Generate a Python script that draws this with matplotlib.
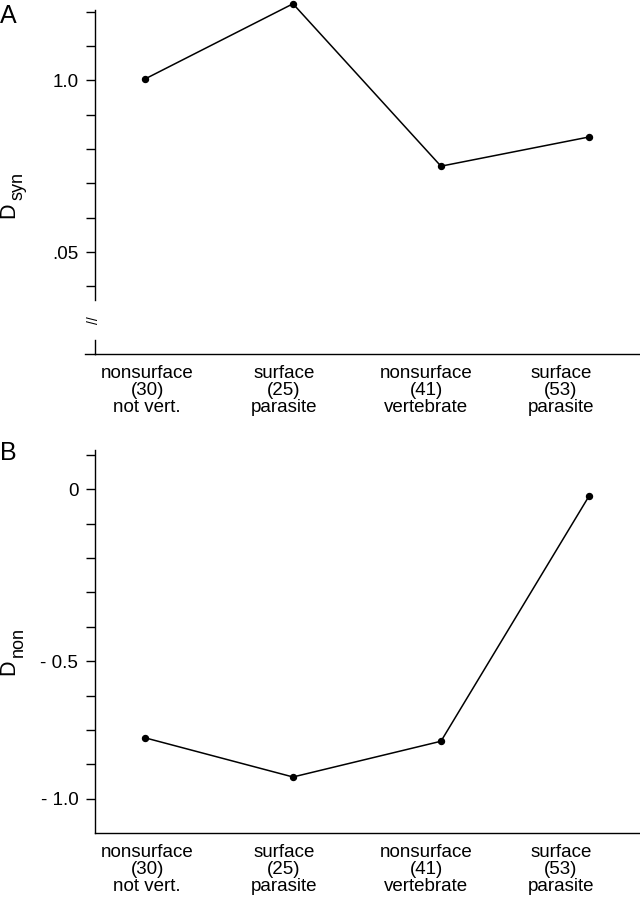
import numpy as np
import matplotlib
matplotlib.use("Agg")
import matplotlib.pyplot as plt

plt.rcParams["font.family"] = ["Liberation Sans", "DejaVu Sans"]

# ---- data ----
groups = ["nonsurface\n(30)\nnot vert.", "surface\n(25)\nparasite",
          "nonsurface\n(41)\nvertebrate", "surface\n(53)\nparasite"]
d_syn = [1.004, 1.223, 0.750, 0.835]
d_non = [-0.723, -0.837, -0.733, -0.020]

syn_ticks = [0.4, 0.5, 0.6, 0.7, 0.8, 0.9, 1.0, 1.1, 1.2]
syn_ticklabels = {1.0: "1.0", 0.5: ".05"}
non_ticks = [0.1, 0.0, -0.1, -0.2, -0.3, -0.4, -0.5, -0.6, -0.7, -0.8, -0.9]
non_ticklabels = {0.0: "0", -0.5: "- 0.5", -0.9: "- 1.0"}

# ---- layout (pixels) ----
W, H = 640, 899
fig = plt.figure(figsize=(W / 100, H / 100), dpi=100)


def px_axes(l, t, r, b):
    return fig.add_axes([l / W, 1 - b / H, (r - l) / W, (b - t) / H])


def px_text(x, y, s, **kw):
    # text placed in figure pixels measured from the top-left corner
    return fig.text(x / W, 1 - y / H, s, **kw)


label_x = [0.014, 0.939, 1.899, 2.811]   # category labels sit a bit off the points
FS = 13.5


def style(ax, ticks, ticklabels):
    x = np.arange(len(groups))
    ax.set_xlim(-0.338, 3.345)
    for s in ("top", "right"):
        ax.spines[s].set_visible(False)
    for s in ("left", "bottom"):
        ax.spines[s].set_linewidth(1.0)
    ax.set_yticks(ticks)
    ax.set_yticklabels([ticklabels.get(round(t, 2), "") for t in ticks])
    ax.tick_params(axis="y", direction="out", length=6.5, width=1.0, pad=5.5, labelsize=FS)
    ax.set_xticks(label_x)
    ax.set_xticklabels(groups, linespacing=1.0)
    ax.tick_params(axis="x", length=0, pad=8, labelsize=FS)
    return x


def ylabel(y_bottom, sub):
    # "D" with a large subscript, rotated like the reference y-axis titles
    px_text(14.5, y_bottom, "D", fontsize=15.5, rotation=90, rotation_mode="anchor",
            ha="left", va="baseline")
    px_text(22.5, y_bottom - 18, sub, fontsize=13, rotation=90, rotation_mode="anchor",
            ha="left", va="baseline")


# panel A
axA = px_axes(95, 0, 640, 354)
axA.set_ylim(0.203, 1.234)
x = style(axA, syn_ticks, syn_ticklabels)
axA.plot(x, d_syn, "-", color="black", lw=1.1, marker="o", ms=4.3, clip_on=False)
axA.spines["left"].set_bounds(0.36, 1.205)
ytr = axA.get_yaxis_transform()
axA.plot([0, 0], [0.203, 0.244], color="black", lw=1.0, transform=ytr, clip_on=False)
axA.plot([-10 / 545, 0], [0, 0], color="black", lw=1.0, transform=axA.transAxes, clip_on=False)
axA.text(-0.002, 0.302, "//", transform=ytr, rotation=90, ha="center", va="center", fontsize=10)
ylabel(218, "syn")

# panel B
axB = px_axes(95, 440, 640, 833)
axB.set_ylim(-1.0, 0.1436)
x = style(axB, non_ticks, non_ticklabels)
axB.plot(x, d_non, "-", color="black", lw=1.1, marker="o", ms=4.3, clip_on=False)
axB.spines["left"].set_bounds(-1.0, 0.114)
ylabel(675, "non")

px_text(0, 4, "A", fontsize=18, ha="left", va="top")
px_text(0, 441, "B", fontsize=18, ha="left", va="top")

fig.savefig("out.png", dpi=100)
